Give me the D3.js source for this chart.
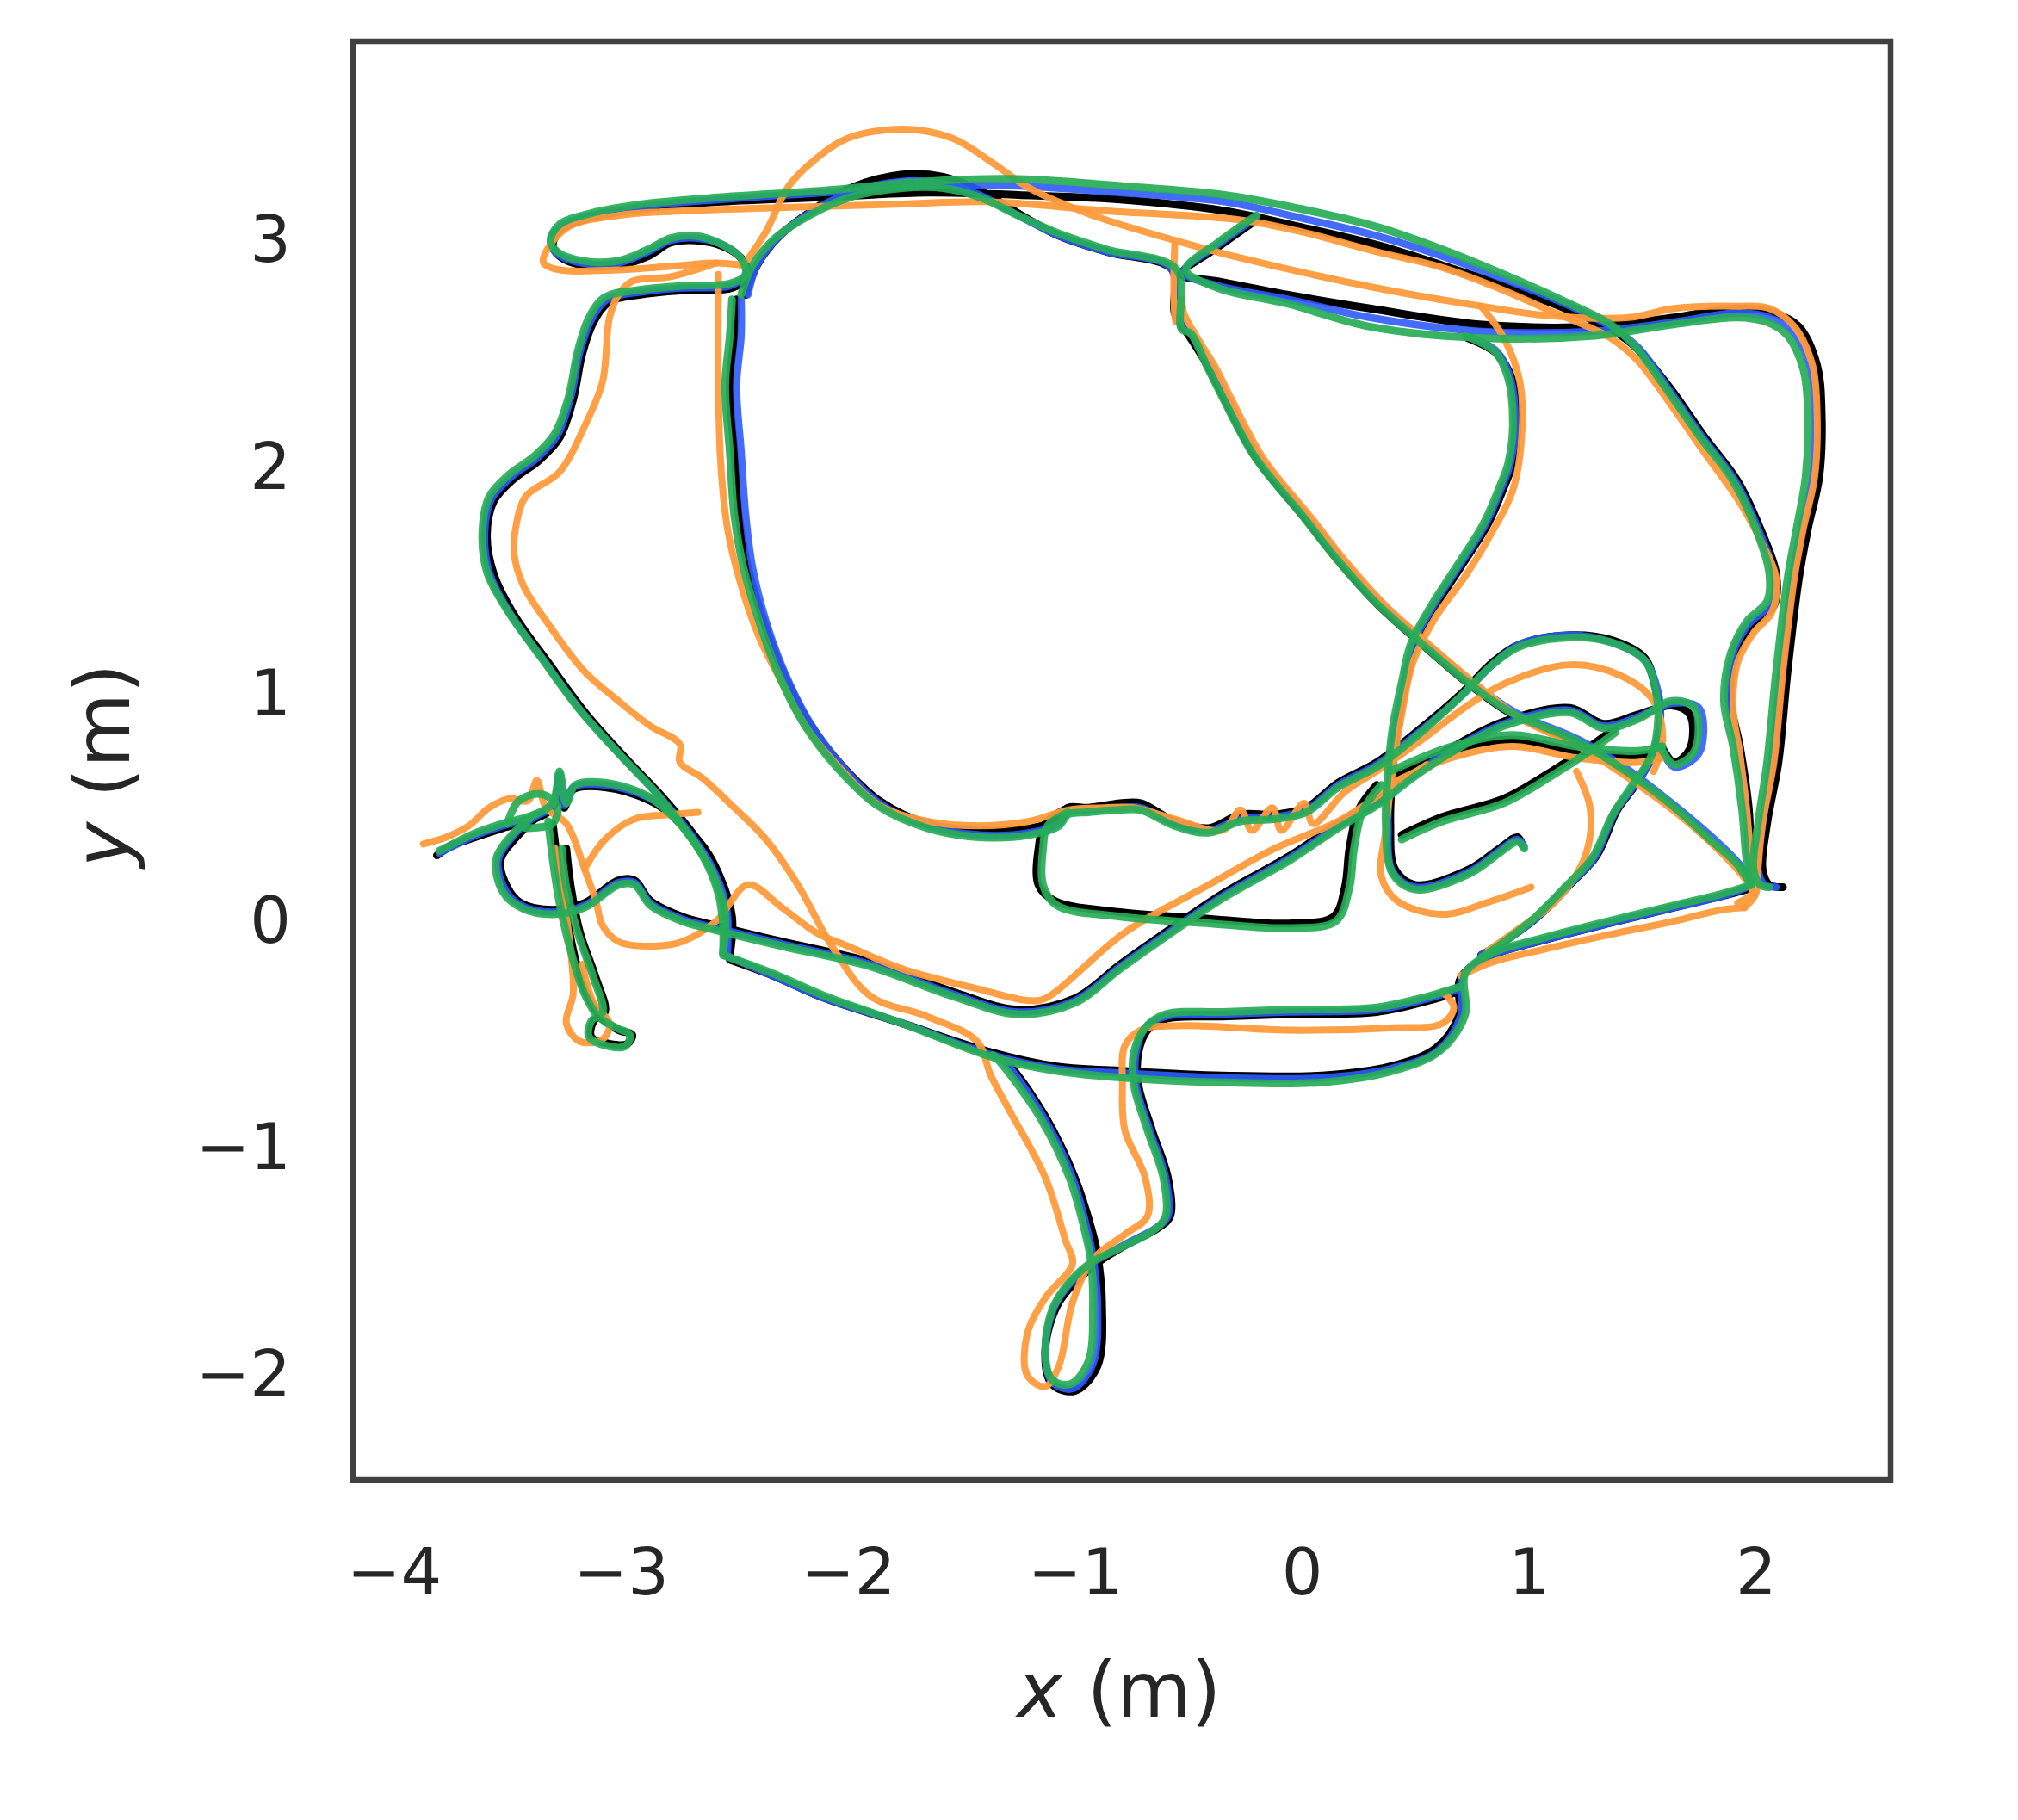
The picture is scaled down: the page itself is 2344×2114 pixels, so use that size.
<!DOCTYPE html>
<html>
<head>
<meta charset="utf-8">
<script src="https://cdn.jsdelivr.net/npm/d3@7"></script>
<style>
  body { margin: 0; background: #fff; }
  text { font-family: "DejaVu Sans", sans-serif; fill: #262626; }
</style>
</head>
<body>
<svg id="chart" width="2344" height="2114"></svg>
<script>
// tick values of the two axes (metres)
const xTickValues = [-4, -3, -2, -1, 0, 1, 2]
const yTickValues = [-2, -1, 0, 1, 2, 3]

// each track is a list of strokes, each stroke a list of [x, y] in metres
const blackTrack = [
  [[-2.52,-0.16],[-2.51,0.01],[-2.57,0.20],[-2.67,0.36],[-2.81,0.53],[-2.98,0.71],[-3.15,0.90],[-3.32,1.13],[-3.47,1.34],[-3.56,1.52],[-3.59,1.69],[-3.56,1.84],[-3.47,1.94],[-3.36,2.02],[-3.27,2.12],[-3.21,2.29],[-3.17,2.49],[-3.12,2.63],[-3.05,2.72],[-2.92,2.75],[-2.73,2.77],[-2.51,2.78],[-2.44,2.83],[-2.46,2.90],[-2.54,2.96],[-2.67,2.99],[-2.78,2.98],[-2.88,2.92],[-3.01,2.88],[-3.17,2.88],[-3.27,2.92],[-3.30,2.97],[-3.26,3.04],[-3.13,3.09],[-2.90,3.13],[-2.56,3.16],[-2.10,3.18],[-1.65,3.20],[-1.25,3.19],[-0.80,3.17],[-0.34,3.12],[-0.01,3.05],[0.33,2.97],[0.62,2.88],[0.89,2.79],[1.16,2.69],[1.36,2.60],[1.48,2.51],[1.63,2.33],[1.77,2.13],[1.92,1.93],[2.02,1.72],[2.09,1.52],[2.08,1.38],[1.98,1.29],[1.91,1.16],[1.89,0.96],[1.93,0.76],[1.97,0.48],[1.98,0.25],[2.00,0.14]],
  [[-2.45,2.75],[-2.40,2.88],[-2.30,3.01],[-2.16,3.12],[-1.99,3.22],[-1.76,3.28],[-1.58,3.27],[-1.42,3.21],[-1.25,3.11],[-1.07,3.01],[-0.86,2.94],[-0.57,2.86],[-0.56,2.67],[-0.49,2.56],[-0.41,2.43],[-0.34,2.29],[-0.20,2.03],[0.01,1.77],[0.16,1.58],[0.33,1.39],[0.53,1.21],[0.73,1.04],[0.93,0.90],[1.21,0.78],[1.41,0.66],[1.63,0.50],[1.82,0.33],[1.92,0.24],[2.00,0.14]],
  [[-0.20,3.08],[-0.37,2.96],[-0.53,2.84],[-0.37,2.81],[-0.06,2.75],[0.30,2.69],[0.78,2.62],[1.29,2.61],[1.64,2.65],[1.92,2.69],[2.08,2.67],[2.19,2.61],[2.27,2.44],[2.29,2.24],[2.28,1.95],[2.23,1.72],[2.19,1.50],[2.14,1.09],[2.10,0.69],[2.05,0.42],[2.03,0.22],[2.06,0.15],[2.12,0.14]],
  [[-2.49,2.73],[-2.50,2.57],[-2.52,2.35],[-2.50,2.06],[-2.48,1.78],[-2.44,1.55],[-2.37,1.31],[-2.29,1.10],[-2.18,0.88],[-2.03,0.68],[-1.86,0.52],[-1.65,0.42],[-1.42,0.39],[-1.20,0.40],[-1.07,0.44],[-1.03,0.49],[-0.94,0.49],[-0.80,0.51],[-0.71,0.51],[-0.56,0.43],[-0.41,0.40],[-0.27,0.46],[-0.12,0.46],[0.02,0.49],[0.16,0.60],[0.33,0.69],[0.50,0.82],[0.70,0.99],[0.84,1.13],[0.96,1.21],[1.18,1.25],[1.36,1.23],[1.51,1.15],[1.56,1.01],[1.58,0.90],[1.55,0.73],[1.47,0.59],[1.39,0.48],[1.30,0.28],[1.18,0.15],[1.04,0.01],[0.89,-0.10],[0.79,-0.16]],
  [[2.00,0.14],[1.85,0.10],[1.64,0.05],[1.35,-0.02],[1.04,-0.10],[0.84,-0.16],[0.70,-0.26],[0.69,-0.43],[0.59,-0.57],[0.39,-0.65],[0.09,-0.69],[-0.35,-0.69],[-0.78,-0.67],[-1.08,-0.65],[-1.36,-0.59],[-1.76,-0.46],[-2.10,-0.35],[-2.33,-0.25],[-2.52,-0.18]],
  [[-1.36,-0.59],[-1.31,-0.62],[-1.13,-0.87],[-1.00,-1.14],[-0.92,-1.39],[-0.90,-1.48],[-0.88,-1.69],[-0.90,-1.97],[-1.00,-2.08],[-1.10,-2.05],[-1.13,-1.90],[-1.07,-1.69],[-0.92,-1.53],[-0.78,-1.44],[-0.63,-1.36],[-0.58,-1.31],[-0.59,-1.14],[-0.66,-0.93],[-0.72,-0.73],[-0.72,-0.59],[-0.68,-0.49],[-0.60,-0.44],[-0.35,-0.43],[-0.06,-0.42],[0.33,-0.41],[0.56,-0.36],[0.69,-0.32]],
  [[0.73,2.56],[0.86,2.49],[0.93,2.37],[0.95,2.17],[0.93,2.01],[0.89,1.90],[0.82,1.74],[0.70,1.55],[0.59,1.38],[0.50,1.21],[0.46,1.04],[0.42,0.84],[0.40,0.65],[0.39,0.42],[0.41,0.22],[0.50,0.15],[0.74,0.22],[0.87,0.31],[0.95,0.36],[0.97,0.33]],
  [[-3.38,0.44],[-3.46,0.36],[-3.53,0.26],[-3.50,0.14],[-3.44,0.07],[-3.30,0.04],[-3.16,0.07],[-3.01,0.17],[-2.94,0.17],[-2.87,0.08],[-2.73,0.01],[-2.58,-0.03],[-2.29,-0.10],[-1.90,-0.19],[-1.54,-0.32],[-1.25,-0.40],[-1.00,-0.35],[-0.80,-0.20],[-0.63,-0.08],[-0.35,0.11],[-0.05,0.28],[0.16,0.42],[0.33,0.52],[0.50,0.65],[0.67,0.76],[0.89,0.87],[1.18,0.93],[1.33,0.86],[1.48,0.90],[1.63,0.94],[1.71,0.90],[1.71,0.75],[1.64,0.69],[1.58,0.77]],
  [[-1.03,0.49],[-1.13,0.42],[-1.16,0.31],[-1.16,0.15],[-1.09,0.08],[-0.80,0.03],[-0.40,0.00],[-0.06,-0.02],[0.14,0.01],[0.19,0.14],[0.21,0.31],[0.25,0.48],[0.33,0.59]],
  [[-3.81,0.28],[-3.75,0.32],[-3.67,0.35],[-3.52,0.40],[-3.38,0.44],[-3.30,0.49],[-3.27,0.62],[-3.25,0.49],[-3.21,0.57],[-3.07,0.58],[-2.87,0.52],[-2.73,0.42],[-2.61,0.28],[-2.54,0.11],[-2.52,-0.03],[-2.52,-0.16]],
  [[-3.30,0.42],[-3.27,0.19],[-3.24,0.02],[-3.20,-0.18],[-3.15,-0.33],[-3.09,-0.43],[-3.01,-0.49],[-2.95,-0.51],[-2.97,-0.55],[-3.05,-0.55],[-3.13,-0.52],[-3.12,-0.45],[-3.07,-0.41],[-3.11,-0.26],[-3.18,-0.06],[-3.22,0.14],[-3.24,0.31]],
  [[0.44,0.37],[0.62,0.45],[0.89,0.53],[1.10,0.65],[1.27,0.76],[1.38,0.84]],
  [[0.40,0.63],[0.66,0.74],[0.93,0.79],[1.21,0.74],[1.48,0.72],[1.59,0.74]]
]

const blueTrack = [
  [[-2.54,-0.15],[-2.53,0.02],[-2.59,0.21],[-2.69,0.37],[-2.83,0.54],[-3.00,0.72],[-3.17,0.91],[-3.34,1.14],[-3.49,1.35],[-3.58,1.53],[-3.60,1.70],[-3.57,1.85],[-3.48,1.95],[-3.37,2.03],[-3.28,2.13],[-3.22,2.30],[-3.18,2.50],[-3.13,2.64],[-3.06,2.73],[-2.93,2.76],[-2.73,2.78],[-2.52,2.79],[-2.45,2.84],[-2.47,2.91],[-2.55,2.97],[-2.67,3.00],[-2.78,2.99],[-2.88,2.94],[-3.01,2.89],[-3.17,2.89],[-3.28,2.93],[-3.31,2.98],[-3.27,3.05],[-3.13,3.10],[-2.90,3.14],[-2.56,3.17],[-2.10,3.20],[-1.65,3.23],[-1.25,3.23],[-0.80,3.20],[-0.34,3.16],[-0.01,3.09],[0.33,3.01],[0.62,2.92],[0.89,2.82],[1.16,2.71],[1.36,2.61],[1.48,2.52],[1.62,2.33],[1.76,2.13],[1.91,1.93],[2.01,1.72],[2.08,1.52],[2.07,1.39],[1.97,1.30],[1.90,1.17],[1.88,0.96],[1.92,0.76],[1.96,0.48],[1.97,0.25],[1.99,0.15]],
  [[-2.44,2.75],[-2.40,2.88],[-2.31,3.00],[-2.17,3.11],[-1.99,3.20],[-1.76,3.25],[-1.58,3.24],[-1.42,3.19],[-1.25,3.10],[-1.07,3.01],[-0.86,2.94],[-0.58,2.87],[-0.55,2.67],[-0.48,2.57],[-0.40,2.44],[-0.33,2.30],[-0.19,2.04],[0.02,1.78],[0.17,1.59],[0.34,1.40],[0.54,1.22],[0.74,1.05],[0.94,0.91],[1.22,0.79],[1.42,0.67],[1.63,0.51],[1.83,0.34],[1.92,0.25],[1.99,0.15]],
  [[-0.20,3.09],[-0.37,2.97],[-0.52,2.85],[-0.37,2.79],[-0.06,2.73],[0.30,2.65],[0.78,2.59],[1.29,2.59],[1.64,2.63],[1.92,2.67],[2.06,2.65],[2.16,2.59],[2.24,2.43],[2.26,2.24],[2.25,1.95],[2.20,1.72],[2.16,1.50],[2.11,1.09],[2.07,0.69],[2.03,0.42],[2.01,0.22],[2.04,0.15],[2.09,0.14]],
  [[-2.47,2.73],[-2.47,2.57],[-2.49,2.35],[-2.47,2.06],[-2.45,1.78],[-2.42,1.55],[-2.36,1.31],[-2.28,1.09],[-2.17,0.87],[-2.03,0.68],[-1.86,0.51],[-1.65,0.41],[-1.42,0.37],[-1.20,0.38],[-1.07,0.42],[-1.03,0.47],[-0.94,0.48],[-0.80,0.49],[-0.71,0.49],[-0.56,0.42],[-0.41,0.39],[-0.27,0.44],[-0.12,0.45],[0.02,0.48],[0.16,0.59],[0.33,0.68],[0.50,0.81],[0.70,0.98],[0.84,1.12],[0.96,1.21],[1.18,1.25],[1.36,1.22],[1.51,1.14],[1.57,1.00],[1.58,0.89],[1.55,0.72],[1.46,0.58],[1.38,0.47],[1.29,0.27],[1.17,0.14],[1.03,0.00],[0.89,-0.10],[0.79,-0.16]],
  [[1.99,0.15],[1.85,0.10],[1.64,0.05],[1.35,-0.02],[1.04,-0.10],[0.84,-0.16],[0.71,-0.25],[0.70,-0.43],[0.60,-0.58],[0.39,-0.66],[0.09,-0.70],[-0.35,-0.70],[-0.78,-0.68],[-1.08,-0.66],[-1.36,-0.60],[-1.76,-0.46],[-2.10,-0.35],[-2.33,-0.25],[-2.54,-0.16]],
  [[-1.36,-0.60],[-1.32,-0.62],[-1.14,-0.87],[-1.01,-1.14],[-0.94,-1.39],[-0.92,-1.49],[-0.90,-1.69],[-0.92,-1.96],[-1.01,-2.07],[-1.10,-2.04],[-1.13,-1.90],[-1.08,-1.69],[-0.94,-1.53],[-0.79,-1.44],[-0.64,-1.36],[-0.59,-1.31],[-0.60,-1.14],[-0.67,-0.93],[-0.73,-0.73],[-0.73,-0.59],[-0.69,-0.48],[-0.60,-0.43],[-0.35,-0.42],[-0.06,-0.41],[0.33,-0.40],[0.56,-0.35],[0.69,-0.31]],
  [[0.73,2.57],[0.86,2.50],[0.92,2.38],[0.94,2.17],[0.92,2.01],[0.88,1.90],[0.81,1.74],[0.69,1.55],[0.58,1.38],[0.49,1.21],[0.45,1.04],[0.41,0.84],[0.39,0.65],[0.38,0.42],[0.40,0.21],[0.50,0.14],[0.74,0.21],[0.87,0.30],[0.95,0.35],[0.98,0.32]],
  [[-3.38,0.45],[-3.47,0.37],[-3.54,0.26],[-3.51,0.13],[-3.44,0.06],[-3.30,0.03],[-3.16,0.06],[-3.01,0.16],[-2.94,0.16],[-2.87,0.07],[-2.73,0.00],[-2.58,-0.04],[-2.29,-0.11],[-1.90,-0.20],[-1.54,-0.33],[-1.25,-0.41],[-1.00,-0.36],[-0.80,-0.21],[-0.63,-0.09],[-0.35,0.10],[-0.05,0.27],[0.16,0.41],[0.33,0.51],[0.50,0.64],[0.67,0.75],[0.89,0.86],[1.18,0.92],[1.33,0.85],[1.48,0.89],[1.63,0.95],[1.75,0.93],[1.75,0.73],[1.64,0.67],[1.58,0.76]],
  [[-3.80,0.29],[-3.74,0.32],[-3.66,0.36],[-3.52,0.41],[-3.38,0.45],[-3.30,0.50],[-3.27,0.64],[-3.25,0.50],[-3.21,0.58],[-3.07,0.59],[-2.87,0.53],[-2.74,0.42],[-2.63,0.28],[-2.55,0.11],[-2.53,-0.03],[-2.53,-0.16]]
]

const orangeTrack = [
  [[-2.46,2.88],[-2.58,2.89],[-2.73,2.88],[-3.01,2.86],[-3.27,2.86],[-3.34,2.89],[-3.33,2.94],[-3.23,3.05],[-3.01,3.10],[-2.73,3.12],[-2.44,3.13],[-2.10,3.14],[-1.76,3.15],[-1.39,3.16],[-0.86,3.12],[-0.27,3.08],[-0.01,3.03],[0.33,2.94],[0.62,2.87],[0.89,2.77],[1.07,2.69],[1.36,2.56],[1.48,2.46],[1.63,2.26],[1.77,2.06],[1.92,1.85],[2.02,1.67],[2.09,1.50],[2.07,1.35],[1.99,1.26],[1.92,1.13],[1.90,0.93],[1.93,0.73],[1.96,0.48],[1.98,0.25],[1.99,0.12],[1.92,0.07]],
  [[-2.58,2.89],[-2.78,2.83],[-2.95,2.81],[-3.01,2.75],[-3.05,2.65],[-3.08,2.37],[-3.16,2.17],[-3.27,1.97],[-3.42,1.86],[-3.46,1.74],[-3.47,1.61],[-3.43,1.47],[-3.32,1.30],[-3.16,1.09],[-3.01,0.96],[-2.87,0.85],[-2.74,0.77],[-2.74,0.69],[-2.64,0.62],[-2.50,0.49],[-2.36,0.35],[-2.22,0.15],[-2.07,-0.12],[-1.90,-0.34],[-1.65,-0.43],[-1.43,-0.54],[-1.37,-0.69],[-1.29,-0.84],[-1.13,-1.14],[-1.04,-1.42],[-1.01,-1.52],[-1.13,-1.67],[-1.21,-1.83],[-1.21,-2.01],[-1.13,-2.06],[-1.07,-1.97],[-1.01,-1.69],[-0.92,-1.50],[-0.78,-1.39],[-0.68,-1.31],[-0.69,-1.14],[-0.78,-0.93],[-0.79,-0.73],[-0.78,-0.56],[-0.71,-0.49],[-0.52,-0.47],[-0.06,-0.49],[0.39,-0.48],[0.62,-0.46],[0.67,-0.39],[0.62,-0.32]],
  [[-2.46,2.88],[-2.36,3.03],[-2.26,3.23],[-2.14,3.35],[-2.00,3.44],[-1.76,3.48],[-1.54,3.44],[-1.36,3.33],[-1.20,3.22],[-0.92,3.10],[-0.56,2.99],[-0.30,2.92],[0.33,2.78],[0.79,2.70],[1.07,2.66],[1.44,2.65],[1.64,2.69],[1.92,2.70],[2.06,2.69],[2.17,2.61],[2.25,2.44],[2.27,2.24],[2.26,1.95],[2.21,1.72],[2.17,1.50],[2.12,1.09],[2.08,0.69],[2.03,0.42],[2.01,0.22],[2.00,0.11],[1.95,0.05]],
  [[-2.57,2.84],[-2.57,2.35],[-2.56,2.01],[-2.53,1.72],[-2.47,1.47],[-2.39,1.24],[-2.29,1.04],[-2.18,0.84],[-2.03,0.66],[-1.86,0.50],[-1.65,0.43],[-1.42,0.41],[-1.20,0.43],[-1.03,0.48],[-0.87,0.49],[-0.74,0.49],[-0.56,0.44],[-0.35,0.39],[-0.27,0.48],[-0.22,0.39],[-0.13,0.49],[-0.09,0.39],[0.01,0.51],[0.05,0.42],[0.19,0.56],[0.36,0.67],[0.53,0.79],[0.73,0.94],[0.90,1.04],[1.18,1.12],[1.41,1.07],[1.55,0.96],[1.59,0.79],[1.55,0.65]],
  [[0.79,2.70],[0.89,2.56],[0.96,2.37],[0.97,2.15],[0.93,1.89],[0.83,1.69],[0.72,1.51],[0.59,1.33],[0.49,1.13],[0.44,0.90],[0.40,0.65],[0.37,0.39],[0.35,0.19],[0.42,0.08],[0.62,0.02],[0.84,0.08],[1.01,0.14]],
  [[-0.56,2.97],[-0.56,2.63],[-0.53,2.73],[-0.52,2.67],[-0.46,2.56],[-0.38,2.43],[-0.31,2.29],[-0.17,2.03],[0.04,1.77],[0.19,1.58],[0.36,1.39],[0.56,1.21],[0.76,1.04],[0.97,0.88],[1.24,0.75],[1.44,0.62],[1.66,0.46],[1.85,0.29],[1.95,0.18],[1.99,0.12]],
  [[-3.87,0.33],[-3.77,0.36],[-3.67,0.41],[-3.58,0.49],[-3.49,0.53],[-3.41,0.52],[-3.37,0.61],[-3.33,0.49],[-3.24,0.42],[-3.16,0.22],[-3.11,0.08],[-3.08,-0.03],[-3.01,-0.10],[-2.87,-0.12],[-2.73,-0.10],[-2.58,-0.01],[-2.44,0.15],[-2.29,0.05],[-2.14,-0.06],[-2.00,-0.12],[-1.76,-0.22],[-1.42,-0.31],[-1.20,-0.36],[-1.13,-0.35],[-0.78,-0.06],[-0.41,0.15],[-0.12,0.31],[0.16,0.43],[0.35,0.55],[0.55,0.68]],
  [[-3.16,0.22],[-3.07,0.35],[-2.94,0.44],[-2.78,0.46],[-2.66,0.47]],
  [[-3.29,0.31],[-3.25,0.08],[-3.22,-0.15],[-3.21,-0.33],[-3.24,-0.46],[-3.18,-0.54],[-3.08,-0.53],[-3.05,-0.46],[-3.12,-0.37],[-3.17,-0.20]],
  [[1.21,0.65],[1.27,0.49],[1.25,0.28],[1.12,0.08],[0.96,-0.04],[0.82,-0.14]],
  [[1.95,0.05],[1.85,0.04],[1.64,-0.01],[1.35,-0.07],[1.04,-0.14],[0.84,-0.19],[0.70,-0.25]],
  [[0.40,0.60],[0.66,0.71],[0.93,0.76],[1.21,0.71],[1.48,0.69],[1.59,0.71]]
]

const greenTrack = [
  [[-2.55,-0.15],[-2.54,0.02],[-2.60,0.21],[-2.70,0.37],[-2.84,0.55],[-3.01,0.73],[-3.18,0.92],[-3.35,1.15],[-3.50,1.36],[-3.59,1.53],[-3.61,1.70],[-3.58,1.86],[-3.49,1.96],[-3.38,2.04],[-3.29,2.14],[-3.23,2.30],[-3.19,2.50],[-3.14,2.65],[-3.07,2.74],[-2.93,2.77],[-2.73,2.79],[-2.52,2.80],[-2.45,2.84],[-2.47,2.91],[-2.55,2.97],[-2.67,3.01],[-2.78,3.00],[-2.88,2.95],[-3.01,2.90],[-3.17,2.90],[-3.28,2.94],[-3.31,2.99],[-3.27,3.06],[-3.13,3.11],[-2.90,3.15],[-2.56,3.18],[-2.10,3.21],[-1.65,3.25],[-1.25,3.26],[-0.80,3.23],[-0.34,3.19],[-0.01,3.13],[0.33,3.05],[0.62,2.95],[0.89,2.84],[1.16,2.72],[1.36,2.62],[1.47,2.52],[1.61,2.33],[1.75,2.13],[1.90,1.93],[2.00,1.72],[2.06,1.52],[2.05,1.40],[1.96,1.31],[1.89,1.17],[1.86,0.96],[1.90,0.76],[1.94,0.48],[1.96,0.25],[1.98,0.15]],
  [[-2.47,2.75],[-2.42,2.88],[-2.32,3.00],[-2.17,3.10],[-1.99,3.18],[-1.76,3.22],[-1.58,3.22],[-1.42,3.18],[-1.25,3.10],[-1.07,3.02],[-0.86,2.95],[-0.55,2.86],[-0.53,2.60],[-0.49,2.58],[-0.42,2.44],[-0.35,2.30],[-0.21,2.04],[0.00,1.78],[0.15,1.59],[0.32,1.40],[0.52,1.22],[0.72,1.05],[0.92,0.91],[1.20,0.79],[1.40,0.67],[1.62,0.51],[1.81,0.34],[1.91,0.25],[1.98,0.15]],
  [[-0.20,3.10],[-0.37,2.98],[-0.51,2.86],[-0.37,2.78],[-0.06,2.71],[0.30,2.61],[0.78,2.56],[1.29,2.57],[1.64,2.62],[1.92,2.65],[2.05,2.63],[2.14,2.57],[2.21,2.42],[2.23,2.24],[2.22,1.95],[2.18,1.72],[2.14,1.50],[2.09,1.09],[2.05,0.69],[2.01,0.42],[1.99,0.22],[2.02,0.15],[2.06,0.14]],
  [[-2.51,2.73],[-2.52,2.57],[-2.54,2.35],[-2.52,2.06],[-2.50,1.78],[-2.46,1.55],[-2.39,1.31],[-2.31,1.09],[-2.20,0.87],[-2.05,0.67],[-1.87,0.50],[-1.65,0.40],[-1.42,0.36],[-1.20,0.37],[-1.07,0.41],[-1.03,0.46],[-0.94,0.47],[-0.80,0.48],[-0.71,0.48],[-0.56,0.41],[-0.41,0.38],[-0.27,0.43],[-0.12,0.44],[0.02,0.47],[0.16,0.58],[0.33,0.67],[0.50,0.80],[0.70,0.98],[0.84,1.12],[0.96,1.20],[1.18,1.24],[1.36,1.22],[1.51,1.14],[1.56,1.00],[1.57,0.88],[1.54,0.72],[1.45,0.58],[1.37,0.46],[1.28,0.27],[1.16,0.14],[1.02,0.00],[0.88,-0.11],[0.79,-0.17]],
  [[1.98,0.15],[1.85,0.11],[1.64,0.06],[1.35,-0.01],[1.04,-0.09],[0.84,-0.15],[0.72,-0.24],[0.72,-0.42],[0.61,-0.58],[0.40,-0.67],[0.09,-0.72],[-0.35,-0.72],[-0.78,-0.70],[-1.08,-0.67],[-1.36,-0.61],[-1.76,-0.46],[-2.10,-0.34],[-2.33,-0.24],[-2.55,-0.16]],
  [[-1.36,-0.60],[-1.33,-0.63],[-1.15,-0.88],[-1.02,-1.15],[-0.95,-1.40],[-0.93,-1.50],[-0.92,-1.70],[-0.94,-1.95],[-1.02,-2.05],[-1.10,-2.03],[-1.13,-1.90],[-1.09,-1.70],[-0.95,-1.53],[-0.80,-1.45],[-0.65,-1.37],[-0.60,-1.31],[-0.61,-1.14],[-0.68,-0.93],[-0.74,-0.73],[-0.74,-0.59],[-0.69,-0.48],[-0.60,-0.42],[-0.35,-0.41],[-0.06,-0.40],[0.33,-0.39],[0.56,-0.34],[0.69,-0.30]],
  [[0.72,2.57],[0.85,2.50],[0.91,2.38],[0.93,2.17],[0.91,2.01],[0.87,1.90],[0.80,1.74],[0.68,1.55],[0.57,1.38],[0.48,1.21],[0.44,1.04],[0.40,0.84],[0.38,0.65],[0.37,0.42],[0.40,0.20],[0.50,0.13],[0.74,0.20],[0.87,0.29],[0.95,0.34],[0.98,0.31]],
  [[-3.38,0.46],[-3.48,0.37],[-3.55,0.26],[-3.52,0.12],[-3.44,0.05],[-3.30,0.02],[-3.16,0.05],[-3.01,0.15],[-2.94,0.15],[-2.87,0.06],[-2.73,-0.01],[-2.58,-0.05],[-2.29,-0.12],[-1.90,-0.21],[-1.54,-0.34],[-1.25,-0.42],[-1.00,-0.37],[-0.80,-0.22],[-0.63,-0.10],[-0.35,0.09],[-0.05,0.26],[0.16,0.40],[0.33,0.50],[0.50,0.63],[0.67,0.74],[0.89,0.85],[1.18,0.91],[1.33,0.84],[1.48,0.88],[1.63,0.96],[1.73,0.93],[1.73,0.74],[1.64,0.68],[1.58,0.76]],
  [[-1.03,0.47],[-1.12,0.41],[-1.14,0.31],[-1.14,0.15],[-1.08,0.06],[-0.80,0.01],[-0.40,-0.02],[-0.06,-0.04],[0.15,-0.01],[0.21,0.14],[0.23,0.31],[0.27,0.48],[0.35,0.59]],
  [[-3.80,0.30],[-3.74,0.33],[-3.66,0.37],[-3.52,0.42],[-3.38,0.46],[-3.30,0.51],[-3.27,0.65],[-3.24,0.51],[-3.20,0.59],[-3.07,0.60],[-2.88,0.54],[-2.75,0.43],[-2.64,0.28],[-2.57,0.11],[-2.55,-0.03],[-2.55,-0.15]],
  [[-3.32,0.43],[-3.29,0.19],[-3.26,0.02],[-3.21,-0.18],[-3.16,-0.33],[-3.10,-0.43],[-3.02,-0.48],[-2.96,-0.51],[-2.98,-0.56],[-3.06,-0.56],[-3.14,-0.52],[-3.13,-0.45],[-3.08,-0.41],[-3.12,-0.26],[-3.19,-0.06],[-3.24,0.14],[-3.26,0.31]],
  [[0.44,0.35],[0.62,0.43],[0.89,0.51],[1.10,0.63],[1.27,0.74],[1.38,0.82]],
  [[-3.50,0.42],[-3.45,0.52],[-3.35,0.55],[-3.28,0.50],[-3.30,0.42],[-3.42,0.40]],
  [[0.39,0.65],[0.66,0.76],[0.93,0.81],[1.21,0.76],[1.48,0.74],[1.59,0.76]]
]

const Chart = { width: 2344, height: 2114, left: 410, right: 2196, top: 48, bottom: 1719 }

function main() {
  let svg = d3.select("#chart")

  let xScale = d3.scaleLinear().domain([-4.18, 2.594]).range([Chart.left, Chart.right])
  let yScale = d3.scaleLinear().domain([-2.472, 3.867]).range([Chart.bottom, Chart.top])

  svg.append("defs").append("clipPath").attr("id", "plot-clip")
    .append("rect")
    .attr("x", Chart.left).attr("y", Chart.top)
    .attr("width", Chart.right - Chart.left).attr("height", Chart.bottom - Chart.top)

  let line = d3.line()
    .x(d => xScale(d[0]))
    .y(d => yScale(d[1]))
    .curve(d3.curveCatmullRom.alpha(0.5))

  let tracks = [
    { name: "black", data: blackTrack, color: "#000000", width: 9, opacity: 1 },
    { name: "blue", data: blueTrack, color: "#2f5cff", width: 8.5, opacity: 0.9 },
    { name: "orange", data: orangeTrack, color: "#ff9a3c", width: 8, opacity: 0.95 },
    { name: "green", data: greenTrack, color: "#27ac57", width: 9, opacity: 0.92 }
  ]

  let plot = svg.append("g").attr("clip-path", "url(#plot-clip)")

  tracks.forEach(function(t) {
    plot.append("g")
      .attr("class", "track " + t.name)
      .selectAll("path")
      .data(t.data)
      .enter()
      .append("path")
      .attr("d", line)
      .attr("fill", "none")
      .attr("stroke", t.color)
      .attr("stroke-width", t.width)
      .attr("stroke-opacity", t.opacity)
      .attr("stroke-linejoin", "round")
      .attr("stroke-linecap", "round")
  })

  // frame
  svg.append("rect")
    .attr("x", Chart.left).attr("y", Chart.top)
    .attr("width", Chart.right - Chart.left).attr("height", Chart.bottom - Chart.top)
    .attr("fill", "none")
    .attr("stroke", "#404040")
    .attr("stroke-width", 6.5)

  // tick labels only, seaborn white style has no tick marks
  let fmt = d => (d < 0 ? "\u2212" + Math.abs(d) : "" + d)

  let xAxis = svg.append("g")
    .attr("transform", "translate(0," + (Chart.bottom + 80) + ")")
    .call(d3.axisBottom(xScale).tickValues(xTickValues).tickSize(0).tickPadding(0).tickFormat(fmt))
  xAxis.select(".domain").remove()
  xAxis.selectAll("text")
    .attr("font-size", 75)
    .attr("font-family", "DejaVu Sans")
    .attr("fill", "#262626")
    .attr("dy", "0.71em")

  let yAxis = svg.append("g")
    .attr("transform", "translate(" + (Chart.left - 72) + ",0)")
    .call(d3.axisLeft(yScale).tickValues(yTickValues).tickSize(0).tickPadding(0).tickFormat(fmt))
  yAxis.select(".domain").remove()
  yAxis.selectAll("text")
    .attr("font-size", 75)
    .attr("font-family", "DejaVu Sans")
    .attr("fill", "#262626")
    .attr("dy", "0.36em")

  // axis titles
  let xTitle = svg.append("text")
    .attr("x", 1300).attr("y", 1994)
    .attr("text-anchor", "middle")
    .attr("font-size", 89)
  xTitle.append("tspan").attr("font-style", "italic").text("x")
  xTitle.append("tspan").text(" (m)")

  let yTitle = svg.append("text")
    .attr("transform", "translate(150,889) rotate(-90)")
    .attr("text-anchor", "middle")
    .attr("font-size", 89)
  yTitle.append("tspan").attr("font-style", "italic").text("y")
  yTitle.append("tspan").text(" (m)")
}

main()
</script>
</body>
</html>
